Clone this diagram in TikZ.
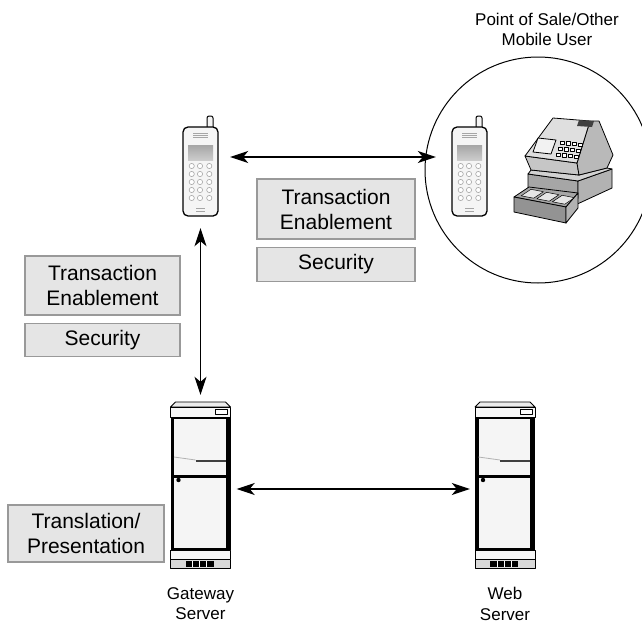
\documentclass[tikz,border=0pt]{standalone}
\usepackage{fontspec}
\setmainfont{Liberation Sans}
\usetikzlibrary{arrows.meta,positioning}

\begin{document}
\begin{tikzpicture}[x=1pt, y=-1pt,
    box/.style={draw=gray!80, fill=gray!20, line width=1.2pt, align=center,
                font=\fontsize{21}{25}\selectfont, inner sep=0pt},
    arr/.style={{Stealth[length=18pt,width=12pt,inset=5pt]}-{Stealth[length=18pt,width=12pt,inset=5pt]},
                line width=1.3pt},
    lbl/.style={align=center, font=\fontsize{17}{20.5}\selectfont, inner sep=0pt},
    ink/.style={draw=black, line width=0.8pt, line join=round},
    % handset, origin at top left of the body
    phone/.pic={
      \draw[ink, line width=1pt, fill=gray!8, rounded corners=2pt] (24,2) -- (24,-11) -- (30,-11) -- (30,2);
      \draw[ink, line width=1.3pt, fill=gray!8, rounded corners=5pt] (0,0) rectangle (35,89);
      \node[inner sep=0pt, minimum width=35pt, minimum height=89pt] (-body) at (17.5,44.5) {};
      \foreach \y in {6,8,10} \draw[gray!70, line width=0.6pt] (10,\y) -- (25,\y);
      \shade[top color=gray!70, bottom color=gray!40] (5,18) rectangle (30,33);
      \foreach \y in {39,47,55,63,71}
        \foreach \x in {8.7,17,26.3}
          \draw[gray!70, fill=white, line width=0.6pt] (\x,\y) circle (2.6);
      \foreach \y in {81,84} \draw[gray!70, line width=0.6pt] (13,\y) -- (22,\y);
    },
    % rack cabinet, origin at top left of the cap
    server/.pic={
      \draw[ink, fill=gray!15] (5,0) -- (55,0) -- (60,5) -- (0,5) -- cycle;
      \draw[ink, fill=gray!6] (0,5) rectangle (60,15);
      \draw[ink, fill=white] (45,7) rectangle (57,12);
      \fill[black] (0,15) rectangle (60,148);
      \fill[gray!8] (3.5,16.5) rectangle (55,73);
      \fill[gray!8] (3.5,75.5) rectangle (55,146);
      \draw[gray!60, line width=0.8pt] (3.5,55) -- (25,58);
      \draw[black!75, line width=1.6pt] (25,59) -- (55,59);
      \fill (8,78) circle (2.2);
      \draw[ink, fill=gray!6] (0,148) rectangle (60,157);
      \draw[ink, fill=gray!30] (0,157) rectangle (60,166);
      \fill[black] (15,158.5) rectangle (43,164.5);
      \foreach \x in {22,29,36} \draw[white, line width=0.8pt] (\x,158.5) -- (\x,164.5);
      \node[inner sep=0pt, minimum width=60pt, minimum height=166pt] (-body) at (30,83) {};
    },
    % cash register
    register/.pic={
      \draw[ink, fill=gray!70] (15,56) -- (65,63) -- (65,80) -- (15,72) -- cycle;
      \draw[ink, fill=gray!60] (65,63) -- (99,51) -- (99,70) -- (60,88) -- (65,80) -- cycle;
      \draw[ink, fill=gray!35] (15,56) -- (18,52) -- (66,57) -- (94,50) -- (99,51) -- (65,63) -- cycle;
      \draw[ink, fill=gray!45] (12,38) -- (64,45) -- (66,57) -- (18,52) -- cycle;
      \draw[ink, fill=gray!55] (77,3) -- (86,3) -- (100,37) -- (94,50) -- (66,57) -- (64,45) -- cycle;
      \draw[ink, fill=gray!25] (40,0) -- (77,3) -- (64,45) -- (12,38) -- cycle;
      \draw[ink, fill=gray!10] (25,20) -- (43,22) -- (38,36) -- (20,34) -- cycle;
      \foreach \r in {0,1,2}
        \foreach \c in {0,1,2,3}
          \draw[ink, line width=0.5pt, fill=white]
            ({47+6*\c-2*\r},{23+6*\r+0.6*\c}) rectangle ++(4.5,3.5);
      \fill[black!75] (66,2) -- (81,3) -- (79,9) -- (64,8) -- cycle;
      \draw[ink, fill=gray!70] (1,79) -- (16,69) -- (65,75) -- (53,89) -- cycle;
      \foreach \a/\b in {0.08/0.32,0.38/0.62,0.68/0.92}
        \draw[ink, line width=0.5pt, fill=gray!20]
          ({4+52*\a},{77+10*\a}) -- ({4+52*\b},{77+10*\b}) --
          ({13.75+52*\b},{70.5+10*\b}) -- ({13.75+52*\a},{70.5+10*\a}) -- cycle;
      \draw[ink, fill=gray!85] (1,79) -- (53,89) -- (53,105) -- (1,94) -- cycle;
      \draw[ink, fill=gray!60] (53,89) -- (65,75) -- (65,90) -- (53,105) -- cycle;
    }
  ]
  \useasboundingbox (0,0) rectangle (642,629);

  % Mobile user and point of sale
  \pic (mob) at (183,127) {phone};
  \node[draw, circle, line width=1pt, minimum size=226pt] (sale) at (538,170) {};
  \pic (cust) at (452,127) {phone};
  \pic (till) at (513,118) {register};
  \node[lbl, anchor=north] (saleL) at (547,12.5) {Point of Sale/Other\\Mobile User};

  % Servers
  \pic (gw) at (170.5,402) {server};
  \pic (web) at (475,402) {server};
  \node[lbl, below=19pt of gw-body] (gwL) {Gateway\\Server};
  \node[lbl, below=19pt of web-body] (webL) {Web\\Server};

  % Service layers
  \node[box, minimum width=158pt, minimum height=60pt] (teR) at (336,209) {Transaction\\Enablement};
  \node[box, minimum width=158pt, minimum height=34pt, below=7pt of teR] (secR) {Security};
  \node[box, minimum width=155pt, minimum height=59pt] (teL) at (102.5,285.5) {Transaction\\Enablement};
  \node[box, minimum width=155pt, minimum height=33pt, below=7pt of teL] (secL) {Security};
  \node[box, minimum width=156pt, minimum height=57pt] (tp) at (86,533.5) {Translation/\\Presentation};

  % Arrows
  \draw[arr] ([xshift=12pt,yshift=14.5pt]mob-body.east) -- ([xshift=-16pt,yshift=14.5pt]cust-body.west);
  \draw[arr] ([yshift=-12pt]mob-body.south) -- ([yshift=7pt]gw-body.north);
  \draw[arr] ([xshift=6pt,yshift=-4pt]gw-body.east) -- ([xshift=-5pt,yshift=-4pt]web-body.west);
\end{tikzpicture}
\end{document}
